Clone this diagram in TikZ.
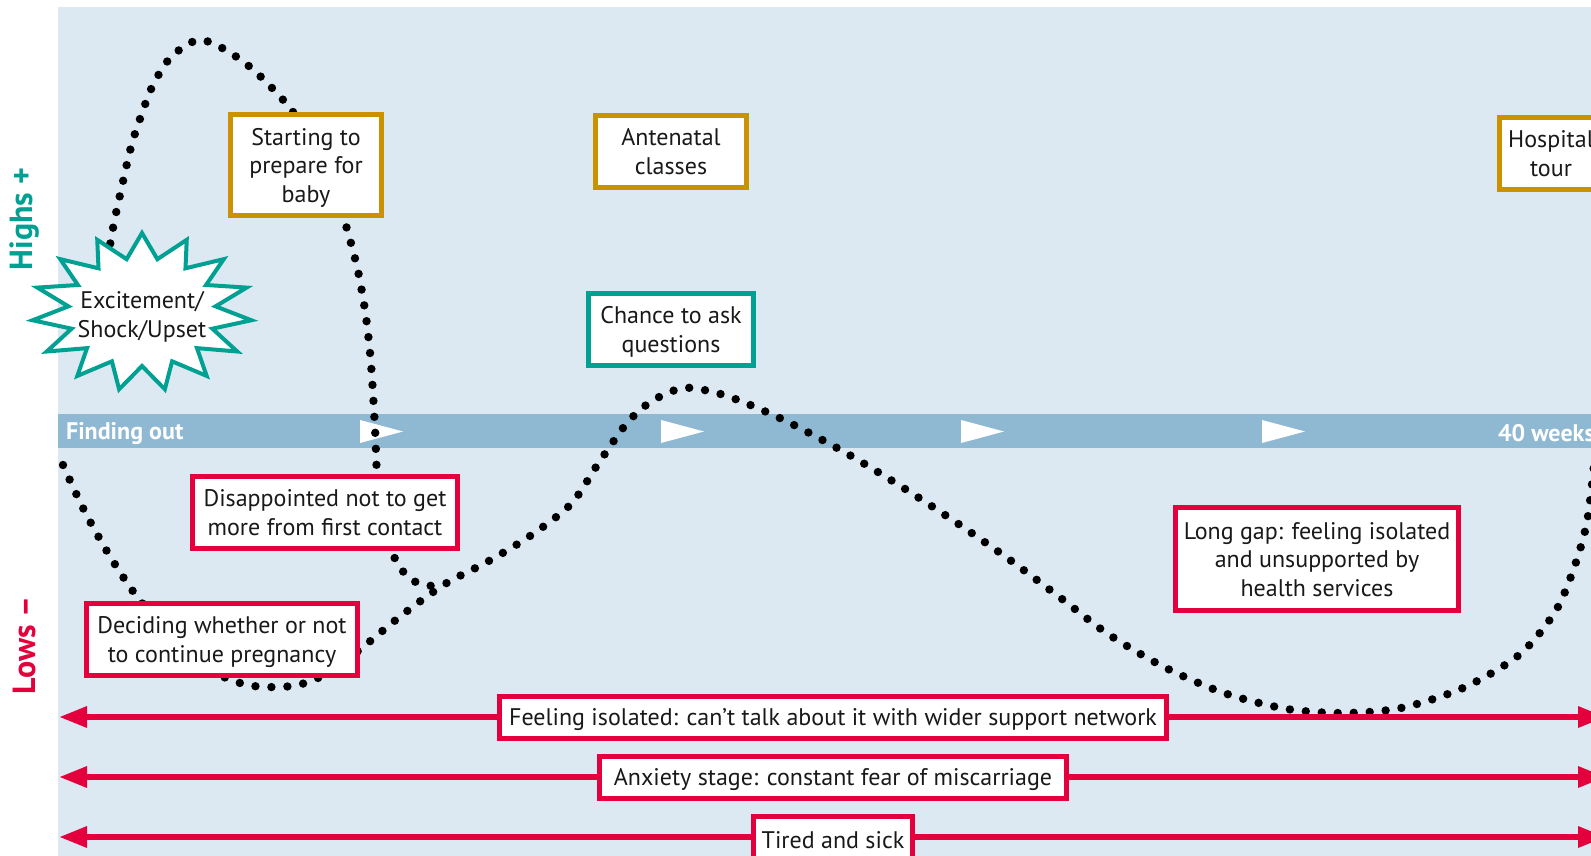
\documentclass[tikz,border=0pt]{standalone}
\usepackage{fontspec}
\setmainfont{PT Sans}
\usetikzlibrary{arrows.meta}
\definecolor{bgblue}{HTML}{DCE8F2}
\definecolor{bandblue}{HTML}{8FB8D2}
\definecolor{gold}{HTML}{CC9100}
\definecolor{burstteal}{HTML}{00A193}
\definecolor{crimson}{HTML}{E4003C}
\begin{document}
\begin{tikzpicture}[x=0.5pt,y=-0.5pt,font=\fontsize{12}{14.25}\selectfont,
	card/.style={draw,fill=white,line width=2.5pt,align=center,inner sep=0pt,text=black!90,text depth=-1.2pt},
	goldcard/.style={card,draw=gold,minimum width=75.5pt,minimum height=36pt},
	tealcard/.style={card,draw=burstteal,minimum height=36pt},
	redcard/.style={card,draw=crimson,minimum height=36pt},
	barcard/.style={draw=crimson,fill=white,line width=2.5pt,inner sep=0pt,text=black!90,minimum height=21pt,
		execute at begin node={\rule{0pt}{11.2pt}}},
	dots/.style={line width=4.2pt,line cap=round,dash pattern=on 0pt off 8pt},
	redline/.style={crimson,line width=3pt,-{Triangle[length=14pt,width=10pt]}},
	burst/.style={draw=burstteal,fill=white,line width=2pt},
	axis/.style={rotate=90,font=\bfseries\fontsize{16}{18}\selectfont},
	bandtext/.style={anchor=west,white,font=\bfseries\fontsize{12}{14}\selectfont}]
	\useasboundingbox (0,0) rectangle (1591,856);
	\clip (0,0) rectangle (1591,856);
	\fill[bgblue] (58,7) rectangle (1600,860);
	% timeline
	\fill[bandblue] (58,414) rectangle (1600,448);
	\foreach \t in {360,661,961,1262}{
		\fill[white] (\t,420)--(\t+43,431.5)--(\t,443)--cycle;
	}
	\node[bandtext] (start) at (59,434) {Finding out};
	\node[bandtext] (end) at (1491,433) {40 weeks};
	\node[axis,burstteal] (highs) at (25,219) {Highs +};
	\node[axis,crimson] (lows) at (25,645) {Lows --};
	% the two dotted paths
	\draw[dots] plot[smooth,tension=.5] coordinates {(63,465) (84,510) (108,553) (135,594) (175,642) (210,670) (240,683) (265,687) (298,685) (330,672) (363,647) (402,615) (445,584) (487,562) (530,536) (571,504) (598,464) (627,423) (652,401) (683,388) (713,392) (743,402) (788,422) (846,453) (902,487) (957,523) (1010,560) (1062,599) (1108,634) (1164,667) (1224,693) (1287,709) (1344,713) (1401,708) (1463,688) (1519,655) (1555,612) (1574,568) (1587,522) (1594,465)};
	\draw[dots] plot[smooth,tension=.5] coordinates {(105,275) (113,228) (120,195) (131,147) (141,116) (153,85) (171,57) (198,40) (224,49) (250,67) (273,89) (293,112) (316,148) (334,188) (347,229) (358,271) (366,317) (371,364) (375,428) (377,475) (381,520) (390,549) (405,574) (418,583) (433,586) (445,584)};
	% highs
	\filldraw[burst,shift={(142,312)}] (-90:110 and 79) \foreach \k in {1,...,29}{
		-- ({-90+12*\k}:{ifthenelse(mod(\k,2)==1,74,110)} and {ifthenelse(mod(\k,2)==1,54,79)})} -- cycle;
	\node[align=center,text=black!90] (excite) at (142,317) {Excitement/\\Shock/Upset};
	\node[goldcard,minimum height=50.5pt] (prepare) at (306,165) {Starting to\\prepare for\\baby};
	\node[goldcard] (antenatal) at (671,151.5) {Antenatal\\classes};
	\node[goldcard,minimum width=51.5pt] (hospital) at (1551,153.5) {Hospital\\tour};
	\node[tealcard,minimum width=82.5pt] (chance) at (671,329.5) {Chance to ask\\questions};
	% lows
	\node[redcard,minimum width=132.5pt] (disappoint) at (325,512.5) {Disappointed not to get\\more from first contact};
	\node[redcard,minimum width=135.5pt] (deciding) at (222,639.5) {Deciding whether or not\\to continue pregnancy};
	\node[redcard,minimum width=141.5pt,minimum height=51.5pt] (longgap) at (1317,559) {Long gap: feeling isolated\\and unsupported by\\health services};
	\node[barcard,minimum width=333.5pt] (isolated) at (833,717) {Feeling isolated: can't talk about it with wider support network};
	\node[barcard,minimum width=233.5pt] (anxiety) at (833,777) {Anxiety stage: constant fear of miscarriage};
	\node[barcard,minimum width=79.5pt] (tired) at (833,837) {Tired and sick};
	\foreach \n/\y in {isolated/717,anxiety/777,tired/837}{
		\draw[redline] (\n.west)--(59,\y);
		\draw[redline] (\n.east)--(1606,\y);
	}
\end{tikzpicture}
\end{document}
